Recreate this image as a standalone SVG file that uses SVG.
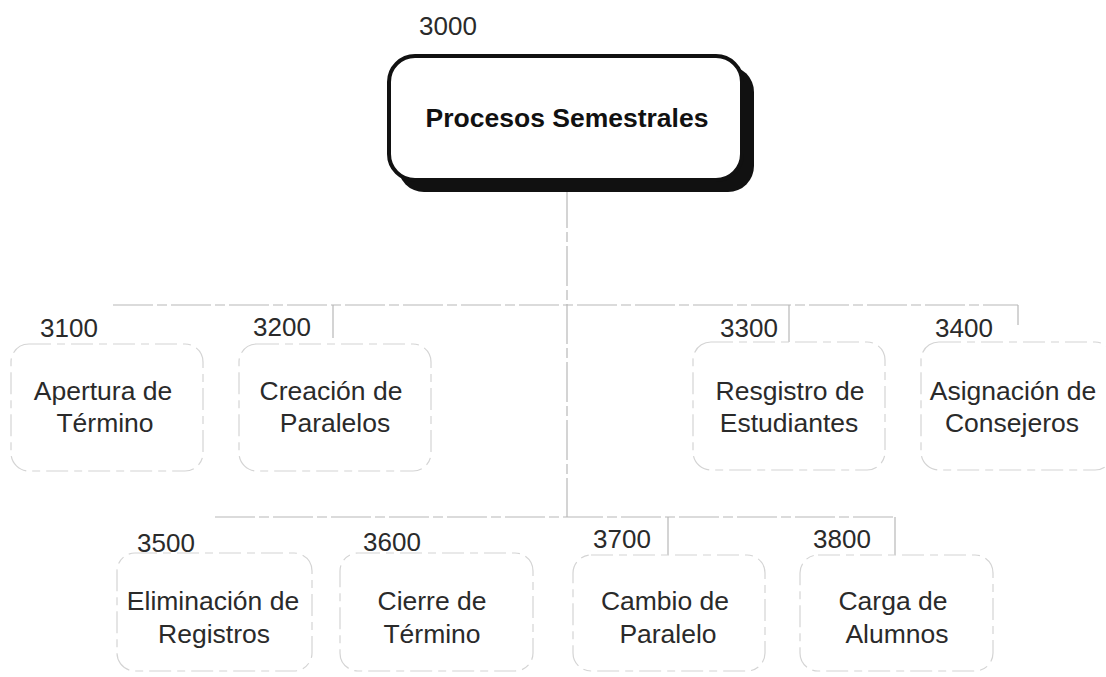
<svg xmlns="http://www.w3.org/2000/svg" width="1106" height="677" viewBox="0 0 1106 677">
<style>
text{font-family:"Liberation Sans",Arial,sans-serif;fill:#2a2a2a;}
.num{font-size:26px;}
.lbl{font-size:26.5px;text-anchor:middle;}
.title{font-size:26.5px;font-weight:bold;text-anchor:middle;fill:#111;}
.box{fill:none;stroke:#d4d4d4;stroke-width:1.2;stroke-dasharray:22 6 8 6;}
.conn{fill:none;stroke:#b8b8b8;stroke-width:1.2;stroke-dasharray:40 4 10 4;}
</style>
<rect width="1106" height="677" fill="#fff"/>
<g id="connectors">
<path class="conn" d="M567 188V517"/>
<path class="conn" d="M113 305H1018"/>
<path class="conn" d="M333 305V338"/>
<path class="conn" d="M789 305V342"/>
<path class="conn" d="M1018 305V325"/>
<path class="conn" d="M215 517H895"/>
<path class="conn" d="M668 517V555"/>
<path class="conn" d="M895 517V555"/>
</g>
<g id="n3000">
<rect x="398" y="66" width="356" height="126" rx="26" fill="#111"/>
<rect x="389" y="56" width="353" height="124" rx="26" fill="#fff" stroke="#111" stroke-width="4"/>
<text class="num" x="419" y="35">3000</text>
<text class="title" x="567" y="127">Procesos Semestrales</text>
</g>
<g id="n3100">
<rect class="box" x="11" y="344" width="192" height="127" rx="18"/>
<text class="num" x="40" y="337">3100</text>
<text class="lbl" x="103" y="400">Apertura de</text>
<text class="lbl" x="105" y="432">Término</text>
</g>
<g id="n3200">
<rect class="box" x="239" y="344" width="192" height="127" rx="18"/>
<text class="num" x="253" y="336">3200</text>
<text class="lbl" x="331" y="400">Creación de</text>
<text class="lbl" x="335" y="432">Paralelos</text>
</g>
<g id="n3300">
<rect class="box" x="693" y="342" width="192" height="128" rx="18"/>
<text class="num" x="720" y="337">3300</text>
<text class="lbl" x="790" y="400">Resgistro de</text>
<text class="lbl" x="789" y="432">Estudiantes</text>
</g>
<g id="n3400">
<rect class="box" x="921" y="342" width="192" height="128" rx="18"/>
<text class="num" x="935" y="337">3400</text>
<text class="lbl" x="1013" y="400">Asignación de</text>
<text class="lbl" x="1012" y="432">Consejeros</text>
</g>
<g id="n3500">
<rect class="box" x="117" y="553" width="195" height="118" rx="18"/>
<text class="num" x="137" y="552">3500</text>
<text class="lbl" x="213" y="610">Eliminación de</text>
<text class="lbl" x="214" y="643">Registros</text>
</g>
<g id="n3600">
<rect class="box" x="340" y="553" width="193" height="118" rx="18"/>
<text class="num" x="363" y="551">3600</text>
<text class="lbl" x="432" y="610">Cierre de</text>
<text class="lbl" x="432" y="643">Término</text>
</g>
<g id="n3700">
<rect class="box" x="573" y="555" width="192" height="116" rx="18"/>
<text class="num" x="593" y="548">3700</text>
<text class="lbl" x="665" y="610">Cambio de</text>
<text class="lbl" x="668" y="643">Paralelo</text>
</g>
<g id="n3800">
<rect class="box" x="800" y="555" width="193" height="116" rx="18"/>
<text class="num" x="813" y="548">3800</text>
<text class="lbl" x="893" y="610">Carga de</text>
<text class="lbl" x="897" y="643">Alumnos</text>
</g>
</svg>
